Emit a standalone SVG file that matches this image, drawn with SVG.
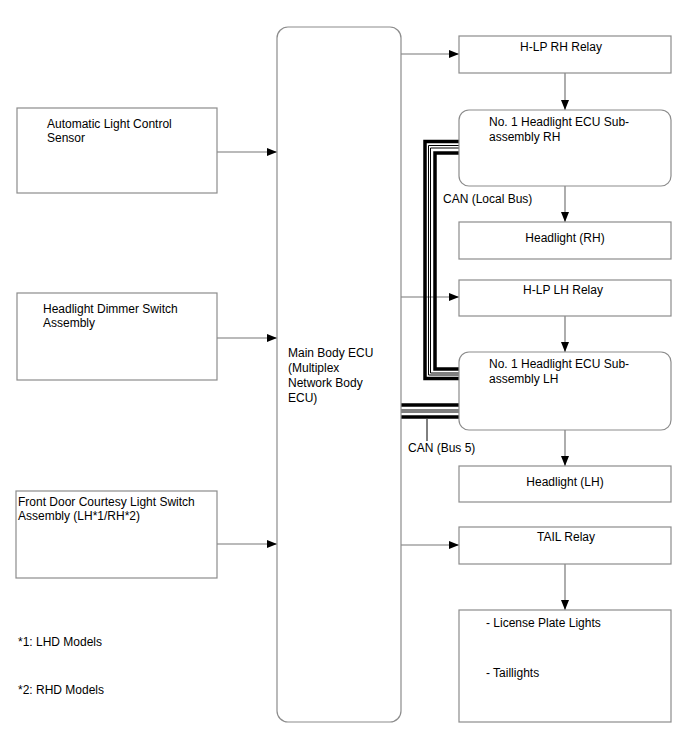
<svg xmlns="http://www.w3.org/2000/svg" width="688" height="755" viewBox="0 0 688 755">
<style>
.box{fill:#fff;stroke:#8c8c8c;stroke-width:1.2}
.t{font-family:"Liberation Sans",Arial,sans-serif;font-size:12px;fill:#000}
.c{text-anchor:middle}
.ln{fill:none;stroke:#777;stroke-width:1.2}
.thk{fill:none;stroke:#000;stroke-width:3.5}
.thn{fill:none;stroke:#000;stroke-width:1}
</style>
<defs>
<marker id="ah" viewBox="0 0 10 8" refX="10" refY="4" markerWidth="10" markerHeight="8" markerUnits="userSpaceOnUse" orient="auto">
<path d="M0,0 L10,4 L0,8 Z" fill="#000"/>
</marker>
</defs>
<rect width="688" height="755" fill="#fff"/>

<g id="connectors">
<line class="ln" x1="217" y1="152" x2="277" y2="152" marker-end="url(#ah)"/>
<line class="ln" x1="217" y1="338" x2="277" y2="338" marker-end="url(#ah)"/>
<line class="ln" x1="217" y1="544" x2="277" y2="544" marker-end="url(#ah)"/>
<line class="ln" x1="401" y1="54" x2="459" y2="54" marker-end="url(#ah)"/>
<line class="ln" x1="401" y1="297" x2="459" y2="297" marker-end="url(#ah)"/>
<line class="ln" x1="401" y1="545" x2="459" y2="545" marker-end="url(#ah)"/>
<line class="ln" x1="565" y1="73" x2="565" y2="110" marker-end="url(#ah)"/>
<line class="ln" x1="565" y1="186" x2="565" y2="222" marker-end="url(#ah)"/>
<line class="ln" x1="565" y1="316" x2="565" y2="352" marker-end="url(#ah)"/>
<line class="ln" x1="565" y1="430" x2="565" y2="466" marker-end="url(#ah)"/>
<line class="ln" x1="565" y1="564" x2="565" y2="610" marker-end="url(#ah)"/>
<!-- CAN local bus -->
<polyline class="thk" points="459,141.5 425,141.5 425,378.5 459,378.5"/>
<polyline class="thn" points="459,145.5 428.5,145.5 428.5,375 459,375"/>
<polyline class="thn" points="459,148 430.5,148 430.5,373 459,373"/>
<polyline class="thk" points="459,153 435,153 435,369 459,369"/>
<!-- CAN bus 5 -->
<line class="thk" x1="401" y1="405" x2="459" y2="405"/>
<line class="thn" x1="401" y1="410" x2="459" y2="410"/>
<line class="thn" x1="401" y1="412" x2="459" y2="412"/>
<line class="thk" x1="401" y1="417" x2="459" y2="417"/>
<line x1="427" y1="419" x2="427" y2="441" stroke="#000" stroke-width="1"/>
</g>

<g id="alcs">
<rect class="box" x="17" y="108" width="200" height="85"/>
<text class="t" x="47" y="128">Automatic Light Control</text>
<text class="t" x="47" y="142">Sensor</text>
</g>
<g id="dimmer">
<rect class="box" x="17" y="293" width="200" height="87"/>
<text class="t" x="43" y="313">Headlight Dimmer Switch</text>
<text class="t" x="43" y="327">Assembly</text>
</g>
<g id="door">
<rect class="box" x="16" y="491" width="201" height="87"/>
<text class="t" x="18" y="506">Front Door Courtesy Light Switch</text>
<text class="t" x="18" y="520">Assembly (LH*1/RH*2)</text>
</g>
<g id="mainecu">
<rect class="box" x="277" y="27" width="124" height="695" rx="11"/>
<text class="t" x="288" y="357">Main Body ECU</text>
<text class="t" x="288" y="372">(Multiplex</text>
<text class="t" x="288" y="387">Network Body</text>
<text class="t" x="288" y="402">ECU)</text>
</g>
<g id="hlprh">
<rect class="box" x="459" y="36" width="212" height="37"/>
<text class="t c" x="561" y="51">H-LP RH Relay</text>
</g>
<g id="ecurh">
<rect class="box" x="459" y="110" width="212" height="76" rx="10"/>
<text class="t" x="489" y="126">No. 1 Headlight ECU Sub-</text>
<text class="t" x="489" y="141">assembly RH</text>
</g>
<g id="hlrh">
<rect class="box" x="459" y="222" width="212" height="37"/>
<text class="t c" x="565" y="242">Headlight (RH)</text>
</g>
<g id="hlplh">
<rect class="box" x="459" y="280" width="212" height="36"/>
<text class="t c" x="563" y="294">H-LP LH Relay</text>
</g>
<g id="eculh">
<rect class="box" x="459" y="352" width="212" height="78" rx="10"/>
<text class="t" x="489" y="368">No. 1 Headlight ECU Sub-</text>
<text class="t" x="489" y="383">assembly LH</text>
</g>
<g id="hllh">
<rect class="box" x="459" y="466" width="212" height="36"/>
<text class="t c" x="565" y="486">Headlight (LH)</text>
</g>
<g id="tail">
<rect class="box" x="459" y="527" width="212" height="37"/>
<text class="t c" x="566" y="541">TAIL Relay</text>
</g>
<g id="lights">
<rect class="box" x="459" y="610" width="212" height="112"/>
<text class="t" x="486" y="627">- License Plate Lights</text>
<text class="t" x="486" y="677">- Taillights</text>
</g>
<g id="labels">
<text class="t" x="443" y="203">CAN (Local Bus)</text>
<text class="t" x="408" y="452">CAN (Bus 5)</text>
<text class="t" x="18" y="646">*1: LHD Models</text>
<text class="t" x="18" y="694">*2: RHD Models</text>
</g>
</svg>
